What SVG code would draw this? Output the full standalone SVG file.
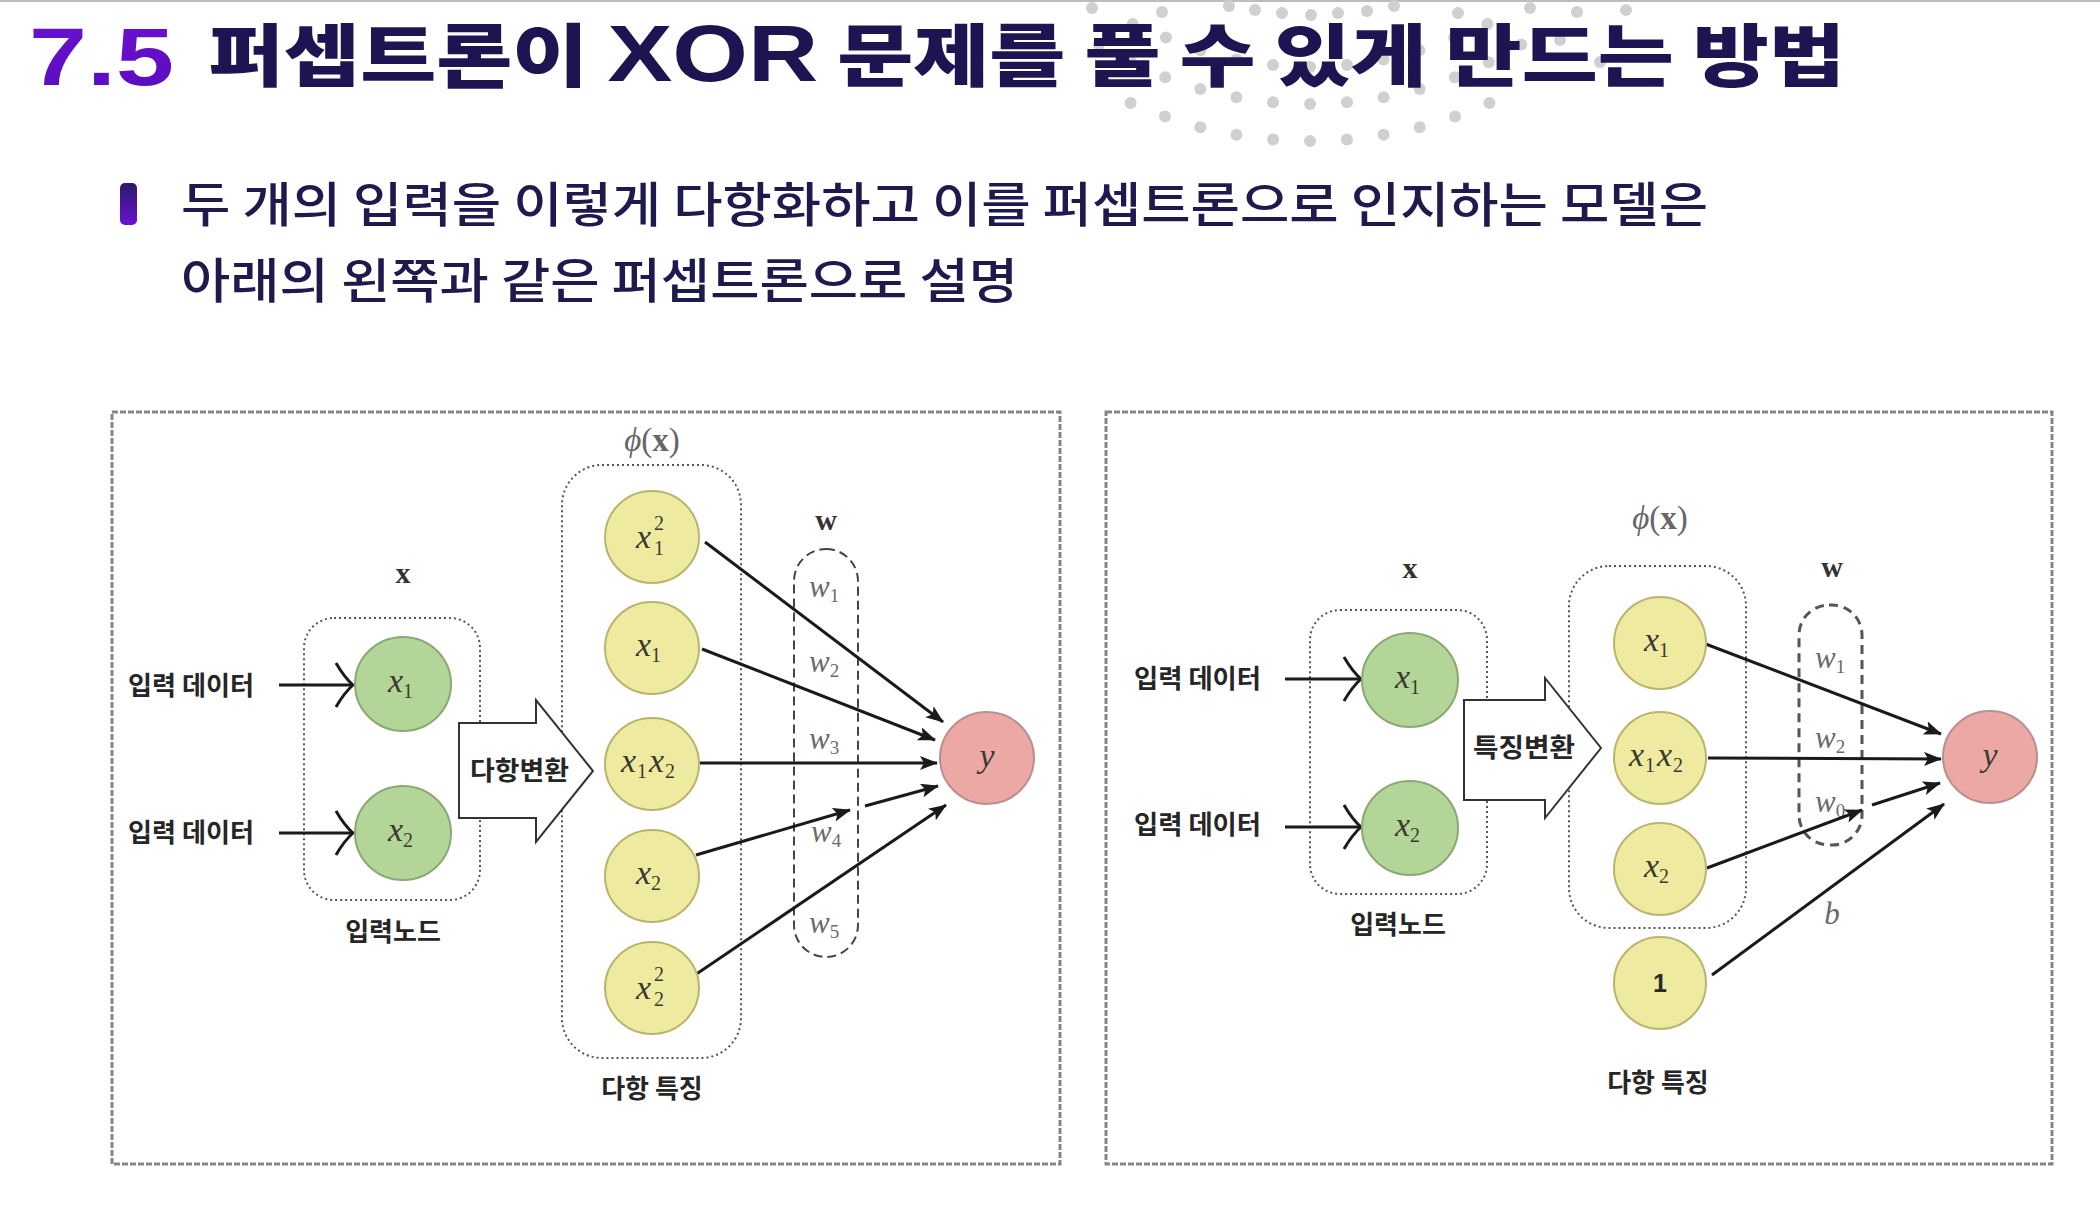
<svg xmlns="http://www.w3.org/2000/svg" width="2100" height="1222" viewBox="0 0 2100 1222">
<defs>
<style>
.kr{font-family:"Noto Sans CJK KR","Noto Sans",sans-serif;}
.lbl{font-family:"Noto Sans CJK KR","Noto Sans",sans-serif;font-weight:700;font-size:26px;fill:#262626;}
.m{font-family:"Liberation Serif","DejaVu Serif",serif;font-style:italic;font-size:34px;fill:#3a3a2e;}
.s{font-family:"Liberation Serif","DejaVu Serif",serif;font-style:normal;font-size:20px;fill:#3a3a2e;}
.wl{font-family:"Liberation Serif","DejaVu Serif",serif;font-style:italic;font-size:31px;fill:#6a6a6a;}
.ws{font-family:"Liberation Serif","DejaVu Serif",serif;font-style:normal;font-size:19px;fill:#6a6a6a;}
.bold{font-family:"Liberation Serif","DejaVu Serif",serif;font-weight:700;font-size:30px;fill:#333;}
.phi{font-family:"Liberation Serif","DejaVu Serif",serif;font-size:33px;fill:#666;}
.frame{fill:none;stroke:#858585;stroke-width:3;stroke-dasharray:6 2;}
.dot{fill:none;stroke:#555;stroke-width:2;stroke-dasharray:2 3;}
.dash{fill:none;stroke:#444;stroke-width:2;stroke-dasharray:9 5;}
.green{fill:#b3d597;stroke:#8aa875;stroke-width:2;}
.yellow{fill:#eeeba0;stroke:#b9b46e;stroke-width:2;}
.pink{fill:#eba8a5;stroke:#b98f8f;stroke-width:2;}
.hollow{fill:#fff;stroke:#333;stroke-width:2;}
.in{stroke:#1a1a1a;stroke-width:3;fill:none;marker-end:url(#open);}
.ed{stroke:#1a1a1a;stroke-width:3;fill:none;marker-end:url(#head);}
</style>
<marker id="open" markerUnits="userSpaceOnUse" markerWidth="24" markerHeight="50" refX="19" refY="24" orient="auto">
<path d="M2,2 Q10,16 19,24 Q10,32 2,46" fill="none" stroke="#1a1a1a" stroke-width="3"/>
</marker>
<marker id="head" markerUnits="userSpaceOnUse" markerWidth="20" markerHeight="14" refX="17" refY="7" orient="auto">
<path d="M0,0 L18,7 L0,14 L4,7 Z" fill="#1a1a1a"/>
</marker>
<linearGradient id="gPurple" x1="0" y1="0" x2="0" y2="1">
<stop offset="0" stop-color="#6a12d4"/>
<stop offset="1" stop-color="#5a0cbc"/>
</linearGradient>
<linearGradient id="gBullet" x1="0" y1="0" x2="0" y2="1">
<stop offset="0" stop-color="#2a1a6a"/>
<stop offset="1" stop-color="#6a12d0"/>
</linearGradient>
</defs>
<rect width="2100" height="1222" fill="#fff"/>
<rect x="0" y="0" width="2100" height="2" fill="#bdbdbd"/>
<g id="dots" fill="#d0d0d0">
<circle cx="1130.6" cy="102.9" r="6"/><circle cx="1165" cy="116.5" r="6"/><circle cx="1200.3" cy="127.2" r="6"/><circle cx="1236.4" cy="134.8" r="6"/><circle cx="1273.1" cy="139.5" r="6"/><circle cx="1310" cy="141" r="6"/><circle cx="1346.9" cy="139.5" r="6"/><circle cx="1383.6" cy="134.8" r="6"/><circle cx="1419.7" cy="127.2" r="6"/><circle cx="1455" cy="116.5" r="6"/><circle cx="1489.4" cy="102.9" r="6"/>
<circle cx="1310" cy="104" r="6"/><circle cx="1273" cy="102.3" r="6"/><circle cx="1347" cy="102.3" r="6"/><circle cx="1236.4" cy="97.3" r="6"/><circle cx="1383.6" cy="97.3" r="6"/><circle cx="1200.3" cy="88.9" r="6"/><circle cx="1419.7" cy="88.9" r="6"/><circle cx="1165.2" cy="77.2" r="6"/><circle cx="1454.8" cy="77.2" r="6"/><circle cx="1131.3" cy="62.3" r="6"/><circle cx="1488.7" cy="62.3" r="6"/><circle cx="1098.9" cy="44.5" r="6"/><circle cx="1521.1" cy="44.5" r="6"/>
<circle cx="1310" cy="67" r="6"/><circle cx="1273" cy="65.1" r="6"/><circle cx="1347" cy="65.1" r="6"/><circle cx="1236.5" cy="59.5" r="6"/><circle cx="1383.5" cy="59.5" r="6"/><circle cx="1200.6" cy="50.3" r="6"/><circle cx="1419.4" cy="50.3" r="6"/><circle cx="1165.9" cy="37.5" r="6"/><circle cx="1454.1" cy="37.5" r="6"/><circle cx="1132.6" cy="24" r="6"/><circle cx="1487.4" cy="24" r="6"/><circle cx="1560" cy="40" r="6"/><circle cx="1600" cy="62" r="6"/>
<circle cx="1092" cy="8" r="6"/><circle cx="1162" cy="12" r="6"/><circle cx="1229" cy="6" r="6"/><circle cx="1255" cy="10" r="6"/><circle cx="1282" cy="13" r="6"/><circle cx="1311" cy="15" r="6"/><circle cx="1338" cy="13" r="6"/><circle cx="1367" cy="11" r="6"/><circle cx="1394" cy="6" r="6"/><circle cx="1458" cy="13" r="6"/><circle cx="1530" cy="8" r="6"/><circle cx="1577" cy="12" r="6"/><circle cx="1626" cy="10" r="6"/>
</g>
<g id="title">
<text x="29" y="85" font-family="Liberation Sans, Arial, sans-serif" font-size="82" font-weight="700" textLength="145" lengthAdjust="spacingAndGlyphs" fill="url(#gPurple)">7.5</text>
<text class="kr" x="208" y="81" font-size="68" font-weight="900" textLength="1637" lengthAdjust="spacingAndGlyphs" fill="#1d1452">퍼셉트론이 <tspan font-family="Liberation Sans, Arial, sans-serif" font-weight="700" font-size="80">XOR</tspan> 문제를 풀 수 있게 만드는 방법</text>
</g>
<g id="bullet">
<rect x="120" y="183" width="17" height="42" rx="5" fill="url(#gBullet)"/>
<text class="kr" x="181" y="222" font-size="48" font-weight="500" textLength="1527" lengthAdjust="spacingAndGlyphs" fill="#1e1a4d">두 개의 입력을 이렇게 다항화하고 이를 퍼셉트론으로 인지하는 모델은</text>
<text class="kr" x="181" y="298" font-size="48" font-weight="500" textLength="837" lengthAdjust="spacingAndGlyphs" fill="#1e1a4d">아래의 왼쪽과 같은 퍼셉트론으로 설명</text>
</g>

<!-- LEFT DIAGRAM -->
<g id="left-frame"><rect class="frame" x="112" y="412" width="948" height="752"/></g>
<g id="left-input-box">
<rect class="dot" x="304" y="618" width="176" height="282" rx="30"/>
<text class="bold" x="403" y="583" text-anchor="middle">x</text>
<text class="lbl" x="393" y="941" text-anchor="middle">입력노드</text>
</g>
<g id="left-feature-box">
<rect class="dot" x="562" y="465" width="179" height="593" rx="40"/>
<text class="phi" x="652" y="451" text-anchor="middle"><tspan font-style="italic">ϕ</tspan>(<tspan font-weight="700">x</tspan>)</text>
<text class="lbl" x="652" y="1098" text-anchor="middle">다항 특징</text>
</g>
<g id="left-w-box">
<rect class="dash" x="794" y="549" width="64" height="408" rx="32"/>
<text class="bold" x="826" y="530" text-anchor="middle">w</text>
<text class="wl" x="809" y="597">w<tspan class="ws" dy="5">1</tspan></text>
<text class="wl" x="809" y="672">w<tspan class="ws" dy="5">2</tspan></text>
<text class="wl" x="809" y="749">w<tspan class="ws" dy="5">3</tspan></text>
<text class="wl" x="811" y="842">w<tspan class="ws" dy="5">4</tspan></text>
<text class="wl" x="809" y="933">w<tspan class="ws" dy="5">5</tspan></text>
</g>
<g id="left-labels">
<text class="lbl" x="128" y="695" textLength="126" lengthAdjust="spacingAndGlyphs">입력 데이터</text>
<text class="lbl" x="128" y="842" textLength="126" lengthAdjust="spacingAndGlyphs">입력 데이터</text>
</g>

<!-- RIGHT DIAGRAM -->
<g id="right-frame"><rect class="frame" x="1106" y="412" width="946" height="752"/></g>
<g id="right-input-box">
<rect class="dot" x="1310" y="610" width="177" height="284" rx="30"/>
<text class="bold" x="1410" y="578" text-anchor="middle">x</text>
<text class="lbl" x="1398" y="934" text-anchor="middle">입력노드</text>
</g>
<g id="right-feature-box">
<rect class="dot" x="1569" y="566" width="177" height="362" rx="40"/>
<text class="phi" x="1660" y="529" text-anchor="middle"><tspan font-style="italic">ϕ</tspan>(<tspan font-weight="700">x</tspan>)</text>
<text class="lbl" x="1658" y="1092" text-anchor="middle">다항 특징</text>
</g>
<g id="right-w-box">
<rect x="1799" y="605" width="63" height="240" rx="30" fill="none" stroke="#555" stroke-width="3" stroke-dasharray="9 6"/>
<text class="bold" x="1832" y="577" text-anchor="middle">w</text>
<text class="wl" x="1815" y="668">w<tspan class="ws" dy="5">1</tspan></text>
<text class="wl" x="1815" y="748">w<tspan class="ws" dy="5">2</tspan></text>
<text class="wl" x="1815" y="812">w<tspan class="ws" dy="5">0</tspan></text>
<text class="wl" x="1832" y="924" text-anchor="middle">b</text>
</g>
<g id="right-labels">
<text class="lbl" x="1134" y="688" textLength="127" lengthAdjust="spacingAndGlyphs">입력 데이터</text>
<text class="lbl" x="1134" y="834" textLength="127" lengthAdjust="spacingAndGlyphs">입력 데이터</text>
</g>

<g id="connectors">
<line class="in" x1="279" y1="685" x2="353" y2="685"/>
<line class="in" x1="279" y1="833" x2="353" y2="833"/>
<line class="ed" x1="705" y1="542" x2="943" y2="722"/>
<line class="ed" x1="702" y1="649" x2="935" y2="740"/>
<line class="ed" x1="700" y1="763" x2="937" y2="763"/>
<line class="ed" x1="696" y1="855" x2="850" y2="810"/>
<line class="ed" x1="865" y1="806" x2="938" y2="786"/>
<line class="ed" x1="692" y1="977" x2="946" y2="805"/>
<line class="in" x1="1285" y1="679" x2="1361" y2="679"/>
<line class="in" x1="1285" y1="827" x2="1361" y2="827"/>
<line class="ed" x1="1703" y1="643" x2="1941" y2="734"/>
<line class="ed" x1="1708" y1="758" x2="1941" y2="759"/>
<line class="ed" x1="1707" y1="868" x2="1862" y2="810"/>
<line class="ed" x1="1872" y1="805" x2="1940" y2="783"/>
<line class="ed" x1="1712" y1="975" x2="1944" y2="804"/>
</g>

<g id="left-transform">
<polygon class="hollow" points="459,723 536,723 536,700 593,771 536,842 536,818 459,818"/>
<text class="lbl" x="470" y="780" textLength="99" lengthAdjust="spacingAndGlyphs">다항변환</text>
</g>
<g id="right-transform">
<polygon class="hollow" points="1464,700 1545,700 1545,678 1601,748 1545,818 1545,800 1464,800"/>
<text class="lbl" x="1473" y="757" textLength="102" lengthAdjust="spacingAndGlyphs">특징변환</text>
</g>

<g id="node-l-x1"><ellipse class="green" cx="403" cy="684" rx="48" ry="47"/><text class="m" x="388" y="692">x<tspan class="s" dy="6">1</tspan></text></g>
<g id="node-l-x2"><ellipse class="green" cx="403" cy="833" rx="48" ry="47"/><text class="m" x="388" y="841">x<tspan class="s" dy="6">2</tspan></text></g>
<g id="node-l-x1sq"><ellipse class="yellow" cx="652" cy="537" rx="47" ry="46"/><text class="m" x="636" y="548">x</text><text class="s" x="654" y="530">2</text><text class="s" x="654" y="555">1</text></g>
<g id="node-l-f-x1"><ellipse class="yellow" cx="652" cy="648" rx="47" ry="46"/><text class="m" x="636" y="656">x<tspan class="s" dy="6">1</tspan></text></g>
<g id="node-l-x1x2"><ellipse class="yellow" cx="652" cy="764" rx="47" ry="46"/><text class="m" x="621" y="772">x</text><text class="s" x="637" y="778">1</text><text class="m" x="649" y="772">x</text><text class="s" x="665" y="778">2</text></g>
<g id="node-l-f-x2"><ellipse class="yellow" cx="652" cy="876" rx="47" ry="46"/><text class="m" x="636" y="884">x<tspan class="s" dy="6">2</tspan></text></g>
<g id="node-l-x2sq"><ellipse class="yellow" cx="652" cy="988" rx="47" ry="46"/><text class="m" x="636" y="999">x</text><text class="s" x="654" y="981">2</text><text class="s" x="654" y="1006">2</text></g>
<g id="node-l-y"><ellipse class="pink" cx="987" cy="758" rx="47" ry="46"/><text class="m" x="987" y="767" text-anchor="middle">y</text></g>

<g id="node-r-x1"><ellipse class="green" cx="1410" cy="680" rx="48" ry="47"/><text class="m" x="1395" y="688">x<tspan class="s" dy="6">1</tspan></text></g>
<g id="node-r-x2"><ellipse class="green" cx="1410" cy="828" rx="48" ry="47"/><text class="m" x="1395" y="836">x<tspan class="s" dy="6">2</tspan></text></g>
<g id="node-r-f-x1"><ellipse class="yellow" cx="1660" cy="643" rx="46" ry="46"/><text class="m" x="1644" y="651">x<tspan class="s" dy="6">1</tspan></text></g>
<g id="node-r-x1x2"><ellipse class="yellow" cx="1660" cy="758" rx="46" ry="46"/><text class="m" x="1629" y="766">x</text><text class="s" x="1645" y="772">1</text><text class="m" x="1657" y="766">x</text><text class="s" x="1673" y="772">2</text></g>
<g id="node-r-f-x2"><ellipse class="yellow" cx="1660" cy="869" rx="46" ry="46"/><text class="m" x="1644" y="877">x<tspan class="s" dy="6">2</tspan></text></g>
<g id="node-r-one"><ellipse class="yellow" cx="1660" cy="983" rx="46" ry="46"/><text x="1660" y="992" text-anchor="middle" font-family="Liberation Sans, sans-serif" font-weight="700" font-size="25" fill="#2a2a2a">1</text></g>
<g id="node-r-y"><ellipse class="pink" cx="1990" cy="757" rx="47" ry="46"/><text class="m" x="1990" y="766" text-anchor="middle">y</text></g>
</svg>
